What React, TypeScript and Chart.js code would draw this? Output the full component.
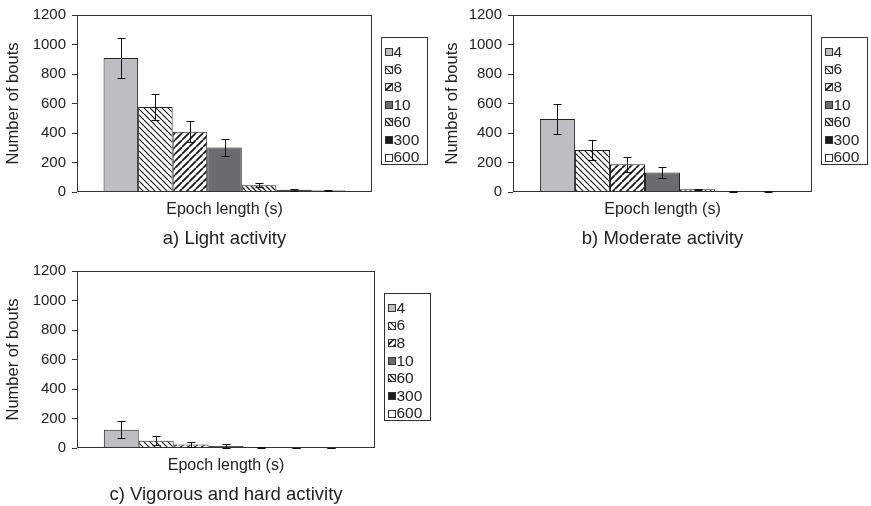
import React, { useEffect, useRef } from 'react';
import { Chart, registerables } from 'chart.js';

Chart.register(...registerables);

// ---------- data ----------
const epochLengths = ['4', '6', '8', '10', '60', '300', '600'];

const lightMeans = [908, 577, 408, 302, 45, 15, 12];
const lightErrors = [135, 90, 70, 58, 14, 5, 4];

const moderateMeans = [495, 284, 188, 132, 18, 6, 5];
const moderateErrors = [105, 70, 52, 40, 5, 3, 3];

const vigorousMeans = [124, 50, 24, 13, 2, 1, 1];
const vigorousErrors = [56, 30, 14, 13, 2, 1, 1];

const yMin = 0;
const yMax = 1200;
const yStep = 200;

const xAxisTitle = 'Epoch length (s)';
const yAxisTitle = 'Number of bouts';
const captions = ['a) Light activity', 'b) Moderate activity', 'c) Vigorous and hard activity'];

// ---------- styles ----------
const FONT = '"Liberation Sans", Arial, Helvetica, sans-serif';
const INK = '#222';
const fillKinds = ['solid:#bdbec1', 'back:6:1.1', 'fwd:7:1.7', 'solid:#6b6c70', 'back:5:1.4', 'solid:#1c1c1c', 'solid:#ffffff'];

function makeFill(kind: string): any {
  const parts = kind.split(':');
  if (parts[0] === 'solid') return parts[1];
  const s = parseFloat(parts[1]);
  const lw = parseFloat(parts[2]);
  const tile = document.createElement('canvas');
  tile.width = s;
  tile.height = s;
  const c = tile.getContext('2d')!;
  c.fillStyle = '#ffffff';
  c.fillRect(0, 0, s, s);
  c.strokeStyle = '#111';
  c.lineWidth = lw;
  c.beginPath();
  for (let k = -1; k <= 1; k++) {
    if (parts[0] === 'back') {
      c.moveTo(k * s, 0);
      c.lineTo(k * s + s, s);
    } else {
      c.moveTo(k * s, s);
      c.lineTo(k * s + s, 0);
    }
  }
  c.stroke();
  const ctx = document.createElement('canvas').getContext('2d')!;
  return ctx.createPattern(tile, 'repeat');
}

const framePlugin = {
  id: 'frame',
  afterDatasetsDraw(chart: any) {
    const { ctx, chartArea } = chart;
    ctx.save();
    ctx.strokeStyle = '#333';
    ctx.lineWidth = 1;
    const l = Math.round(chartArea.left) + 0.5;
    const t = Math.round(chartArea.top) + 0.5;
    const r = Math.round(chartArea.right) - 0.5;
    const b = Math.round(chartArea.bottom) - 0.5;
    ctx.strokeRect(l, t, r - l, b - t);
    ctx.restore();
  },
};

const errorBarPlugin = {
  id: 'errorBars',
  afterDatasetsDraw(chart: any) {
    const { ctx } = chart;
    const ys = chart.scales.y;
    ctx.save();
    ctx.strokeStyle = '#111';
    ctx.lineWidth = 1;
    chart.data.datasets.forEach((ds: any, i: number) => {
      const meta = chart.getDatasetMeta(i);
      meta.data.forEach((bar: any, j: number) => {
        const v = ds.data[j];
        const e = ds.errors[j];
        const top = Math.round(ys.getPixelForValue(v + e)) + 0.5;
        const bot = Math.round(ys.getPixelForValue(Math.max(0, v - e))) + 0.5;
        const x = Math.round(bar.x) + 0.5;
        ctx.beginPath();
        ctx.moveTo(x, top);
        ctx.lineTo(x, bot);
        ctx.moveTo(x - 4, top);
        ctx.lineTo(x + 4, top);
        ctx.moveTo(x - 4, bot);
        ctx.lineTo(x + 4, bot);
        ctx.stroke();
      });
    });
    ctx.restore();
  },
};

const boxLegendPlugin = {
  id: 'boxLegend',
  afterDraw(chart: any, _args: any, opts: any) {
    const { ctx, chartArea } = chart;
    const x0 = Math.round(chartArea.right + opts.gap) + 0.5;
    const y0 = Math.round(chartArea.top + opts.offsetTop) + 0.5;
    ctx.save();
    ctx.strokeStyle = '#333';
    ctx.lineWidth = 1;
    ctx.strokeRect(x0, y0, opts.width, opts.height);
    ctx.font = `${opts.fontSize}px ${FONT}`;
    ctx.textBaseline = 'middle';
    ctx.textAlign = 'left';
    chart.data.datasets.forEach((ds: any, i: number) => {
      const cy = y0 + opts.firstRow + i * opts.rowHeight;
      const sx = Math.round(x0 + 3) + 0.5;
      const sy = Math.round(cy - 3.5) + 0.5;
      ctx.fillStyle = ds.backgroundColor;
      ctx.fillRect(sx, sy, 7, 7);
      ctx.strokeStyle = '#333';
      ctx.strokeRect(sx, sy, 7, 7);
      ctx.fillStyle = INK;
      ctx.fillText(ds.label, x0 + 12, cy + 1);
    });
    ctx.restore();
  },
};

const captionPlugin = {
  id: 'caption',
  afterDraw(chart: any, _args: any, opts: any) {
    const { ctx, chartArea } = chart;
    ctx.save();
    ctx.font = `${opts.size}px ${FONT}`;
    ctx.fillStyle = INK;
    ctx.textAlign = 'center';
    ctx.textBaseline = 'middle';
    ctx.fillText(opts.text, (chartArea.left + chartArea.right) / 2, chartArea.bottom + opts.offset);
    ctx.restore();
  },
};

type PanelProps = {
  left: number;
  top: number;
  width: number;
  height: number;
  areaLeft: number;
  areaTop: number;
  areaRight: number;
  areaBottom: number;
  yTitlePad: number;
  means: number[];
  errors: number[];
  caption: string;
};

function Panel(p: PanelProps) {
  const ref = useRef<HTMLCanvasElement | null>(null);
  useEffect(() => {
    const canvas = ref.current!;
    const fills = fillKinds.map(makeFill);
    const xHeight = p.height - p.areaBottom;
    const xTitlePad = xHeight - 17.5 - 9.6;
    const chart = new Chart(canvas, {
      type: 'bar',
      data: {
        labels: [xAxisTitle],
        datasets: epochLengths.map((lab, i) => ({
          label: lab,
          data: [p.means[i]],
          errors: [p.errors[i]],
          backgroundColor: fills[i],
          borderColor: '#222',
          borderWidth: 1,
          categoryPercentage: 0.82,
          barPercentage: 1,
        })) as any,
      },
      options: {
        responsive: false,
        animation: false,
        devicePixelRatio: 1,
        layout: {
          padding: { left: 0, top: p.areaTop, right: p.width - p.areaRight, bottom: 0 },
        },
        plugins: {
          legend: { display: false },
          tooltip: { enabled: false },
          title: { display: false },
          caption: { text: p.caption, size: 18.5, offset: 47 },
          boxLegend: {
            gap: 8.5,
            offsetTop: 22,
            width: 46,
            height: 127,
            firstRow: 14,
            rowHeight: 17.6,
            fontSize: 15.5,
          },
        } as any,
        scales: {
          x: {
            type: 'category',
            grid: { display: false },
            border: { display: false },
            ticks: { display: false },
            title: {
              display: true,
              text: xAxisTitle,
              color: INK,
              font: { family: FONT, size: 16, lineHeight: 1.2 },
              padding: { top: 0, bottom: xTitlePad },
            },
            afterFit: (scale: any) => {
              scale.height = xHeight;
            },
          },
          y: {
            min: yMin,
            max: yMax,
            grid: {
              display: true,
              drawOnChartArea: false,
              drawTicks: true,
              tickLength: 5,
              color: '#333',
            },
            border: { display: false },
            ticks: {
              stepSize: yStep,
              padding: 6,
              color: INK,
              font: { family: FONT, size: 15 },
              callback: (v: any) => String(v),
            },
            title: {
              display: true,
              text: yAxisTitle,
              color: INK,
              font: { family: FONT, size: 16.5, lineHeight: 1.2 },
              padding: { top: p.yTitlePad, bottom: 0 },
            },
            afterFit: (scale: any) => {
              scale.width = p.areaLeft;
            },
          },
        },
      },
      plugins: [framePlugin, errorBarPlugin, boxLegendPlugin, captionPlugin],
    });
    return () => chart.destroy();
  }, []);
  return (
    <canvas
      ref={ref}
      width={p.width}
      height={p.height}
      style={{ position: 'absolute', left: p.left, top: p.top, width: p.width, height: p.height }}
    />
  );
}

export default function App() {
  return (
    <div style={{ position: 'absolute', left: 0, top: 0, width: 871, height: 506, background: '#fff' }}>
      <Panel left={0} top={0} width={440} height={250} areaLeft={77} areaTop={13} areaRight={372} areaBottom={192}
        yTitlePad={4} means={lightMeans} errors={lightErrors} caption={captions[0]} />
      <Panel left={440} top={0} width={431} height={250} areaLeft={73} areaTop={11} areaRight={372} areaBottom={192}
        yTitlePad={3} means={moderateMeans} errors={moderateErrors} caption={captions[1]} />
      <Panel left={0} top={250} width={440} height={256} areaLeft={77} areaTop={21} areaRight={375} areaBottom={198}
        yTitlePad={4} means={vigorousMeans} errors={vigorousErrors} caption={captions[2]} />
    </div>
  );
}
